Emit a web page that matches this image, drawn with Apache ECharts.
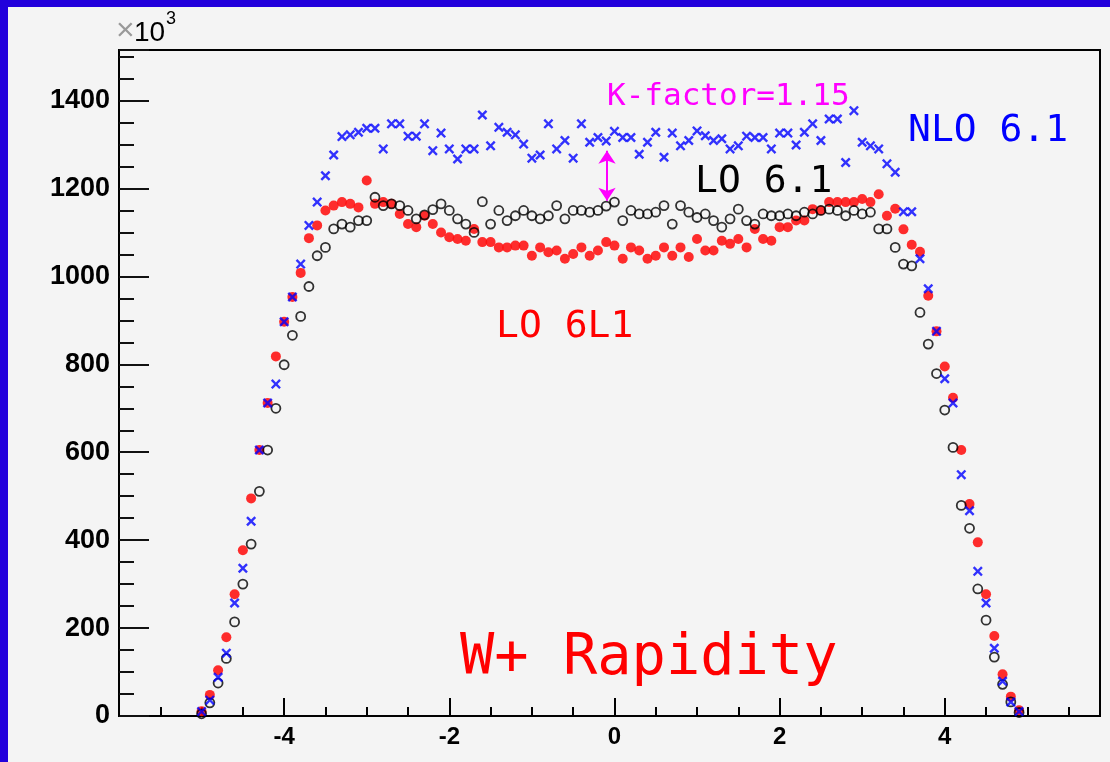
<!DOCTYPE html>
<html><head><meta charset="utf-8">
<script src="https://cdn.jsdelivr.net/npm/echarts@6/dist/echarts.min.js"></script>
<style>html,body{margin:0;padding:0;background:#f4f4f4}#c{width:1110px;height:762px}</style>
</head><body><div id="c"></div>
<script>
// bin centres of the rapidity histograms
const binStart = -5.0, binWidth = 0.1, nBins = 100;
const xCenters = [];
for (let i = 0; i < nBins; i++) xCenters.push(+(binStart + i * binWidth).toFixed(2));

// NLO 6.1 (blue crosses)
const nlo61 = [10,36,88,143,257,336,443,605,712,755,
  897,953,1028,1116,1169,1229,1276,1318,1322,1328,
  1337,1337,1290,1347,1347,1319,1319,1347,1286,1326,
  1290,1267,1290,1290,1367,1297,1339,1328,1322,1301,
  1269,1276,1347,1290,1309,1269,1347,1305,1316,1308,
  1330,1316,1316,1278,1305,1328,1271,1326,1297,1309,
  1331,1320,1309,1313,1290,1297,1319,1316,1316,1290,
  1326,1326,1299,1328,1347,1309,1358,1358,1259,1377,
  1305,1297,1290,1256,1237,1147,1147,1040,972,875,
  767,712,549,467,329,257,154,79,32,10];

// LO 6.1 (black open circles)
const lo61 = [5,30,75,131,214,300,391,511,605,700,
  799,866,909,977,1047,1066,1108,1119,1112,1127,
  1127,1180,1161,1165,1161,1150,1131,1140,1152,1165,
  1150,1131,1119,1100,1170,1119,1150,1127,1138,1150,
  1138,1131,1138,1161,1131,1150,1150,1146,1150,1160,
  1169,1127,1150,1142,1142,1146,1161,1119,1161,1146,
  1134,1142,1127,1112,1131,1153,1127,1119,1142,1138,
  1138,1142,1138,1146,1142,1150,1153,1150,1138,1150,
  1142,1146,1108,1108,1066,1028,1024,918,846,779,
  696,611,479,427,289,218,134,72,32,8];

// LO 6L1 (red full circles)
const lo6l1 = [11,48,104,179,277,377,495,605,712,818,
  897,953,1008,1087,1116,1150,1161,1169,1165,1157,
  1218,1165,1169,1165,1142,1119,1112,1138,1119,1100,
  1089,1085,1081,1108,1078,1078,1066,1066,1070,1070,
  1047,1066,1055,1059,1040,1051,1066,1047,1059,1078,
  1070,1040,1066,1059,1040,1047,1066,1047,1066,1044,
  1085,1059,1059,1081,1074,1085,1066,1108,1085,1081,
  1112,1112,1127,1127,1153,1150,1169,1169,1169,1169,
  1176,1169,1187,1138,1154,1107,1072,1056,956,875,
  795,724,605,482,395,277,182,95,44,13];

const xTickLabels = [-4, -2, 0, 2, 4];
const yTickLabels = [0, 200, 400, 600, 800, 1000, 1200, 1400];
const kFactorArrow = { x: -0.09, from: 1172, to: 1286 };

const xMin = -6, xMax = 5.88, yMin = 0, yMax = 1515;
const crossPath = 'path://M0,1.7L1.7,0L5,3.3L8.3,0L10,1.7L6.7,5L10,8.3L8.3,10L5,6.7L1.7,10L0,8.3L3.3,5Z';

const chart = echarts.init(document.getElementById('c'), null, { renderer: 'canvas' });
const axisFont = 'Liberation Sans, Arial, sans-serif';
const monoFont = 'DejaVu Sans Mono, monospace';

chart.setOption({
  animation: false,
  backgroundColor: '#f4f4f4',
  grid: { left: 119, top: 50, right: 10, bottom: 46, show: true, borderColor: '#000', borderWidth: 2, backgroundColor: 'transparent' },
  xAxis: [
    { type: 'value', min: xMin, max: xMax, interval: 2, position: 'bottom',
      axisLine: { show: true, onZero: false, lineStyle: { color: '#000', width: 2 } },
      axisTick: { show: true, inside: true, length: 18, lineStyle: { color: '#000', width: 2 } },
      axisLabel: { show: true, margin: 9, color: '#000', fontSize: 24, fontWeight: 'bold', fontFamily: axisFont,
        formatter: v => (xTickLabels.includes(Math.round(v * 100) / 100) ? String(Math.round(v)) : '') },
      splitLine: { show: false } },
    { type: 'value', min: xMin, max: xMax, interval: 0.5, position: 'bottom',
      axisLine: { show: false, onZero: false },
      axisTick: { show: true, inside: true, length: 9, lineStyle: { color: '#000', width: 2 } },
      axisLabel: { show: false }, splitLine: { show: false } }
  ],
  yAxis: [
    { type: 'value', min: yMin, max: yMax, interval: 200, position: 'left',
      axisLine: { show: true, onZero: false, lineStyle: { color: '#000', width: 2 } },
      axisTick: { show: true, inside: true, length: 30, lineStyle: { color: '#111', width: 2 } },
      axisLabel: { show: true, margin: 9, color: '#000', fontSize: 27, fontWeight: 'bold', fontFamily: axisFont,
        formatter: v => (yTickLabels.includes(Math.round(v)) ? String(Math.round(v)) : '') },
      splitLine: { show: false } },
    { type: 'value', min: yMin, max: yMax, interval: 50, position: 'left',
      axisLine: { show: false, onZero: false },
      axisTick: { show: true, inside: true, length: 15, lineStyle: { color: '#111', width: 2 } },
      axisLabel: { show: false }, splitLine: { show: false } }
  ],
  series: [
    { type: 'scatter', name: 'LO 6L1', xAxisIndex: 0, yAxisIndex: 0, silent: true,
      data: xCenters.map((x, i) => [x, lo6l1[i]]),
      symbol: 'circle', symbolSize: 10, itemStyle: { color: '#ff1010', opacity: 0.88 }, z: 2 },
    { type: 'scatter', name: 'LO 6.1', xAxisIndex: 0, yAxisIndex: 0, silent: true,
      data: xCenters.map((x, i) => [x, lo61[i]]),
      symbol: 'circle', symbolSize: 9, itemStyle: { color: 'rgba(0,0,0,0)', borderColor: '#000', borderWidth: 1.8 }, z: 3 },
    { type: 'scatter', name: 'NLO 6.1', xAxisIndex: 0, yAxisIndex: 0, silent: true,
      data: xCenters.map((x, i) => [x, nlo61[i]]),
      symbol: crossPath, symbolSize: 10, itemStyle: { color: '#0000ff' }, z: 4,
      markLine: { silent: true, symbol: ['arrow', 'arrow'], symbolSize: [13, 13],
        lineStyle: { color: '#ff00ff', width: 2, type: 'solid' }, label: { show: false },
        data: [[{ coord: [kFactorArrow.x, kFactorArrow.from] }, { coord: [kFactorArrow.x, kFactorArrow.to] }]] } }
  ],
  graphic: [
    { type: 'rect', shape: { x: 0, y: 0, width: 1110, height: 7 }, style: { fill: '#2200dc' }, silent: true },
    { type: 'rect', shape: { x: 0, y: 0, width: 8, height: 762 }, style: { fill: '#2200dc' }, silent: true },
    { type: 'text', x: 116, y: 47, style: { text: '×', fill: '#9a9a9a', font: '32px ' + axisFont, textVerticalAlign: 'bottom' } },
    { type: 'text', x: 134, y: 47, style: { text: '10', fill: '#000', font: '28px ' + axisFont, textVerticalAlign: 'bottom' } },
    { type: 'text', x: 166, y: 28, style: { text: '3', fill: '#000', font: '18px ' + axisFont, textVerticalAlign: 'bottom' } },
    { type: 'text', x: 607, y: 97, style: { text: 'K-factor=1.15', fill: '#ff00ff', font: '31px ' + monoFont, textVerticalAlign: 'middle' } },
    { type: 'text', x: 908, y: 131, style: { text: 'NLO 6.1', fill: '#0000ff', font: '38px ' + monoFont, textVerticalAlign: 'middle' } },
    { type: 'text', x: 695, y: 182, style: { text: 'LO 6.1', fill: '#000', font: '38px ' + monoFont, textVerticalAlign: 'middle' } },
    { type: 'text', x: 496, y: 327, style: { text: 'LO 6L1', fill: '#ff0000', font: '38px ' + monoFont, textVerticalAlign: 'middle' } },
    { type: 'text', x: 460, y: 659, style: { text: 'W+ Rapidity', fill: '#ff0000', font: '57px ' + monoFont, textVerticalAlign: 'middle' } }
  ]
});
</script></body></html>
